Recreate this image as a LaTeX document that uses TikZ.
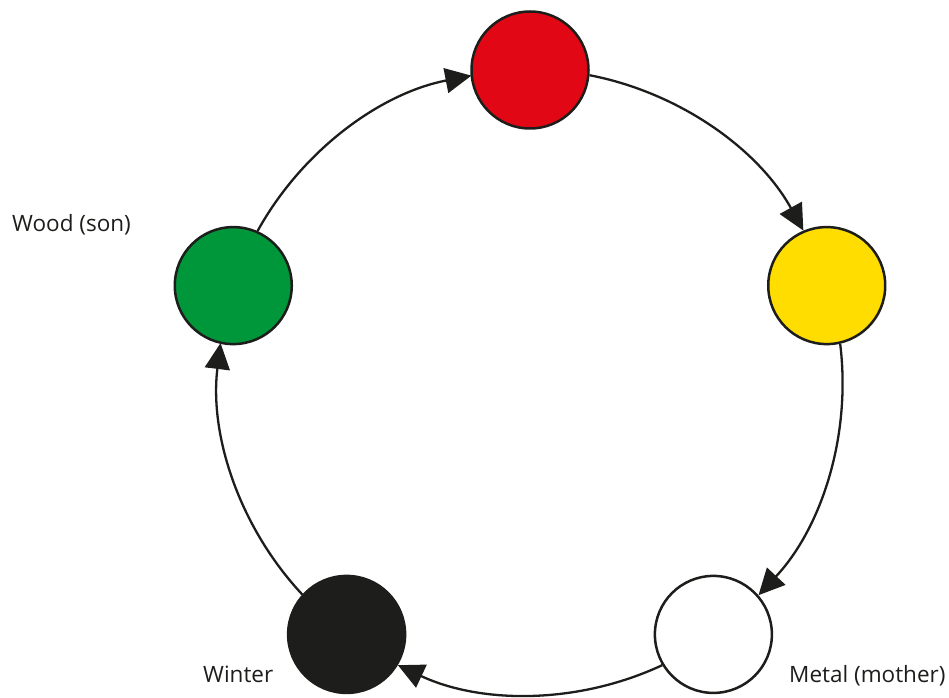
\documentclass[tikz,border=0pt]{standalone}
\usepackage{fontspec}
\setmainfont{Open Sans}
\usetikzlibrary{arrows.meta,calc}
\definecolor{cred}{HTML}{E20714}
\definecolor{cyellow}{HTML}{FFDD00}
\definecolor{cgreen}{HTML}{00963A}
\definecolor{cblack}{HTML}{1D1D1B}
\begin{document}
\begin{tikzpicture}[x=1pt,y=1pt,
  elem/.style={circle, draw=cblack, line width=2.5pt, minimum size=117pt, inner sep=0pt},
  conn/.style={draw=cblack, line width=2.3pt, -{Triangle[length=26pt,width=25pt]}},
  lbl/.style={anchor=base west, inner sep=0pt, font=\fontsize{22.5}{27}\selectfont, text=cblack}]
\useasboundingbox (0,0) rectangle (949,697);
\coordinate (C) at (530,315);
\node[elem, fill=cred]    (red)    at ($(C)+(90:312)$) {};
\node[elem, fill=cyellow] (yellow) at ($(C)+(18:312)$) {};
\node[elem, fill=white]   (white)  at ($(C)+(-54:312)$) {};
\node[elem, fill=cblack]  (black)  at ($(C)+(-126:312)$) {};
\node[elem, fill=cgreen]  (green)  at ($(C)+(162:312)$) {};
\draw[conn] (red.-5.47) arc[start angle=79.06, end angle=28.94, radius=312];
\draw[conn] (yellow.-77.47) arc[start angle=7.06, end angle=-43.06, radius=312];
\draw[conn] (white.-149.47) arc[start angle=-64.94, end angle=-115.06, radius=312];
\draw[conn] (black.138.53) arc[start angle=-136.94, end angle=-187.06, radius=312];
\draw[conn] (green.66.53) arc[start angle=151.06, end angle=100.94, radius=312];
\node[lbl] (lwood) at (12,465) {Wood (son)};
\node[lbl] (lwinter) at (203,15) {Winter};
\node[lbl] (lmetal) at (789,15) {Metal (mother)};
\end{tikzpicture}
\end{document}
